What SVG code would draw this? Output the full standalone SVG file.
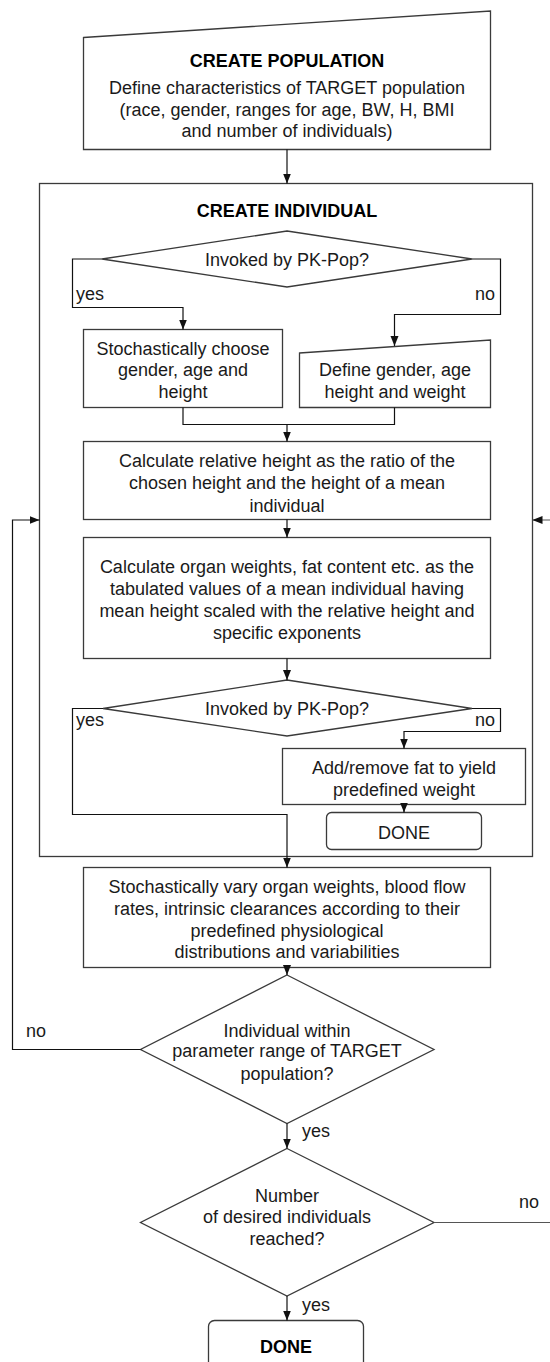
<svg xmlns="http://www.w3.org/2000/svg" width="550" height="1362" viewBox="0 0 550 1362">
<style>
.s{fill:#fff;stroke:#3a3a3a;stroke-width:1.3}
.c{fill:none;stroke:#111;stroke-width:1.2}
.t{font-family:"Liberation Sans",Arial,sans-serif;font-size:18px;fill:#1a1a1a;text-anchor:middle}
.l{font-family:"Liberation Sans",Arial,sans-serif;font-size:18px;fill:#1a1a1a}
.b{font-weight:bold;fill:#000}
</style>
<defs>
<marker id="ah" markerUnits="userSpaceOnUse" markerWidth="10" markerHeight="10" viewBox="0 0 10 10" refX="10" refY="5" orient="auto">
<path d="M0,1 L10,5 L0,9 Z" fill="#111"/>
</marker>
</defs>
<rect x="0" y="0" width="550" height="1362" fill="#fff"/>

<g id="container">
<rect class="s" x="39.5" y="183.5" width="493" height="673" fill="none"/>
<text class="t b" x="287" y="216.5">CREATE INDIVIDUAL</text>
</g>

<g id="create-population">
<path class="s" d="M83.5,37.5 L490.5,11 L490.5,149.5 L83.5,149.5 Z"/>
<text class="t b" x="287" y="67">CREATE POPULATION</text>
<text class="t" x="287" y="94">Define characteristics of TARGET population</text>
<text class="t" x="287" y="115.5">(race, gender, ranges for age, BW, H, BMI</text>
<text class="t" x="287" y="137">and number of individuals)</text>
</g>

<g id="decision-1">
<path class="s" d="M287,231 L472,259 L287,287 L102,259 Z"/>
<text class="t" x="287" y="265.5">Invoked by PK-Pop?</text>
</g>

<g id="stochastic-choose">
<rect class="s" x="83.5" y="329.5" width="199" height="78"/>
<text class="t" x="183" y="355">Stochastically choose</text>
<text class="t" x="183" y="376">gender, age and</text>
<text class="t" x="183" y="398">height</text>
</g>

<g id="define-gender">
<path class="s" d="M299.5,353 L490.5,340 L490.5,407.5 L299.5,407.5 Z"/>
<text class="t" x="395" y="376">Define gender, age</text>
<text class="t" x="395" y="398">height and weight</text>
</g>

<g id="relative-height">
<rect class="s" x="83.5" y="441.5" width="407" height="78"/>
<text class="t" x="287" y="466.5">Calculate relative height as the ratio of the</text>
<text class="t" x="287" y="489">chosen height and the height of a mean</text>
<text class="t" x="287" y="511.5">individual</text>
</g>

<g id="organ-weights">
<rect class="s" x="83.5" y="537.5" width="407" height="121"/>
<text class="t" x="287" y="573">Calculate organ weights, fat content etc. as the</text>
<text class="t" x="287" y="595">tabulated values of a mean individual having</text>
<text class="t" x="287" y="616.5">mean height scaled with the relative height and</text>
<text class="t" x="287" y="639">specific exponents</text>
</g>

<g id="decision-2">
<path class="s" d="M287,680 L472,708.5 L287,736 L103,708.5 Z"/>
<text class="t" x="287" y="715">Invoked by PK-Pop?</text>
</g>

<g id="add-fat">
<rect class="s" x="282.5" y="748.5" width="243" height="56"/>
<text class="t" x="404" y="774">Add/remove fat to yield</text>
<text class="t" x="404" y="795.5">predefined weight</text>
</g>

<g id="done-inner">
<rect class="s" x="326.5" y="812.5" width="155" height="37" rx="5"/>
<text class="t" x="404" y="839">DONE</text>
</g>

<g id="vary">
<rect class="s" x="83.5" y="867.5" width="407" height="100"/>
<text class="t" x="287" y="893">Stochastically vary organ weights, blood flow</text>
<text class="t" x="287" y="915">rates, intrinsic clearances according to their</text>
<text class="t" x="287" y="936.5">predefined physiological</text>
<text class="t" x="287" y="958">distributions and variabilities</text>
</g>

<g id="decision-3">
<path class="s" d="M287,975 L434,1049.5 L287,1123.5 L140.5,1049.5 Z"/>
<text class="t" x="287" y="1036.5">Individual within</text>
<text class="t" x="287" y="1057">parameter range of TARGET</text>
<text class="t" x="287" y="1079.5">population?</text>
</g>

<g id="decision-4">
<path class="s" d="M287,1148.5 L434,1222.5 L287,1296 L140.5,1222.5 Z"/>
<text class="t" x="287" y="1201.5">Number</text>
<text class="t" x="287" y="1223">of desired individuals</text>
<text class="t" x="287" y="1245">reached?</text>
</g>

<g id="done-final">
<rect class="s" x="208.5" y="1320.5" width="155" height="52" rx="6"/>
<text class="t b" x="286" y="1352.5">DONE</text>
</g>

<g id="connectors">
<path class="c" d="M287,149.5 V183.5" marker-end="url(#ah)"/>
<path class="c" d="M102,259 H72.5 V307.5 H183 V329.5" marker-end="url(#ah)"/>
<path class="c" d="M472,259 H500.5 V314.5 H394.5 V346" marker-end="url(#ah)"/>
<path class="c" d="M183,407.5 V424.5 H394.5 V407.5"/>
<path class="c" d="M287,424.5 V441.5" marker-end="url(#ah)"/>
<path class="c" d="M287,519.5 V537.5" marker-end="url(#ah)"/>
<path class="c" d="M287,658.5 V680" marker-end="url(#ah)"/>
<path class="c" d="M103,708.5 H72.5 V814.5 H287 V867.5" marker-end="url(#ah)"/>
<path class="c" d="M472,708.5 H500.5 V731.5 H404 V748.5" marker-end="url(#ah)"/>
<path class="c" d="M404,804.5 V812.5" marker-end="url(#ah)"/>
<path class="c" d="M287,967.5 V975" marker-end="url(#ah)"/>
<path class="c" d="M140.5,1049.5 H12.5 V520 H39.5" marker-end="url(#ah)"/>
<path class="c" d="M287,1123.5 V1148.5" marker-end="url(#ah)"/>
<path class="c" d="M434,1222.5 H552 V520 H532.5" marker-end="url(#ah)" style="stroke:#555"/>
<path class="c" d="M287,1296 V1320.5" marker-end="url(#ah)"/>
<text class="l" x="76" y="300">yes</text>
<text class="l" x="495" y="300" text-anchor="end">no</text>
<text class="l" x="76" y="726">yes</text>
<text class="l" x="495" y="726" text-anchor="end">no</text>
<text class="l" x="26" y="1036.5">no</text>
<text class="l" x="302" y="1137">yes</text>
<text class="l" x="519" y="1208">no</text>
<text class="l" x="302" y="1311">yes</text>
</g>
</svg>
